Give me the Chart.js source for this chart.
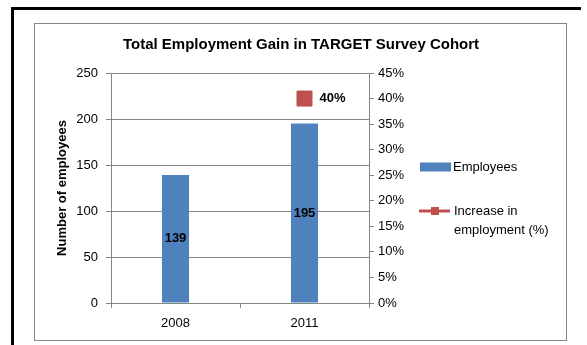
<!DOCTYPE html>
<html>
<head>
<meta charset="utf-8">
<script src="https://cdn.jsdelivr.net/npm/chart.js@4.4.1/dist/chart.umd.min.js"></script>
<style>
  html, body { margin: 0; padding: 0; background: #fff; overflow: hidden; }
  canvas { display: block; }
</style>
</head>
<body>
<canvas id="chart" width="587" height="345"></canvas>
<script>
const years = ["2008", "2011"];
const employees = [139, 195];
const increasePct = [null, 40];
const employeeTicks = [0, 50, 100, 150, 200, 250];
const percentTicks = [0, 5, 10, 15, 20, 25, 30, 35, 40, 45];

const barBlue = "#4F81BD";
const lineRed = "#C0504D";
const axisGray = "#868686";
const FONT = '"Liberation Sans", Arial, sans-serif';

Chart.defaults.font.family = FONT;
Chart.defaults.color = "#000";

// page frame (thick black, open to the right and bottom) and the gray chart box
const chartFrame = {
    id: "chartFrame",
    beforeDraw(chart) {
        const ctx = chart.ctx;
        ctx.save();
        ctx.fillStyle = "#fff";
        ctx.fillRect(0, 0, chart.width, chart.height);
        ctx.fillStyle = "#000";
        ctx.fillRect(11, 7, 570, 3);
        ctx.fillRect(11, 7, 3, chart.height - 7);
        ctx.strokeStyle = axisGray;
        ctx.lineWidth = 1;
        ctx.strokeRect(34.5, 23.5, 532, 317);
        ctx.restore();
    }
};

// value labels: in the middle of each bar, and to the right of the marker
const valueLabels = {
    id: "valueLabels",
    afterDatasetsDraw(chart) {
        const ctx = chart.ctx;
        ctx.save();
        ctx.font = "bold 13px " + FONT;
        ctx.fillStyle = "#000";
        ctx.textBaseline = "middle";
        ctx.textAlign = "center";
        chart.getDatasetMeta(0).data.forEach((bar, i) => {
            ctx.fillText(employees[i], bar.x, (bar.y + bar.base) / 2);
        });
        ctx.textAlign = "left";
        chart.getDatasetMeta(1).data.forEach((pt, i) => {
            if (increasePct[i] == null) return;
            ctx.fillText(increasePct[i] + "%", pt.x + 15, pt.y);
        });
        ctx.restore();
    }
};

// legend to the right of the plot, long labels wrap onto two lines
function wrapText(ctx, text, maxWidth) {
    const words = text.split(" ");
    const lines = [];
    let cur = "";
    words.forEach(w => {
        const next = cur ? cur + " " + w : w;
        if (cur && ctx.measureText(next).width > maxWidth) {
            lines.push(cur);
            cur = w;
        } else {
            cur = next;
        }
    });
    if (cur) lines.push(cur);
    return lines;
}

const sideLegend = {
    id: "sideLegend",
    afterDraw(chart) {
        const ctx = chart.ctx;
        const area = chart.chartArea;
        const x = area.right + 51;
        const sets = chart.data.datasets;
        ctx.save();
        ctx.font = "13px " + FONT;
        ctx.textBaseline = "middle";
        ctx.textAlign = "left";

        let y = area.top + 94;
        ctx.fillStyle = sets[0].backgroundColor;
        ctx.fillRect(x, y - 4.5, 31, 9);
        ctx.fillStyle = "#000";
        ctx.fillText(sets[0].label, x + 33, y);

        y = area.top + 138;
        ctx.strokeStyle = sets[1].borderColor;
        ctx.lineWidth = 3;
        ctx.beginPath();
        ctx.moveTo(x - 1, y);
        ctx.lineTo(x + 30, y);
        ctx.stroke();
        ctx.fillStyle = sets[1].backgroundColor;
        ctx.fillRect(x + 11, y - 4, 8, 8);
        ctx.fillStyle = "#000";
        wrapText(ctx, sets[1].label, 105).forEach((line, i) => {
            ctx.fillText(line, x + 34, y + i * 19);
        });
        ctx.restore();
    }
};

new Chart(document.getElementById("chart"), {
    type: "bar",
    data: {
        labels: years,
        datasets: [
            {
                label: "Employees",
                data: employees,
                backgroundColor: barBlue,
                yAxisID: "y",
                barPercentage: 0.21,
                categoryPercentage: 1,
                order: 2
            },
            {
                type: "line",
                label: "Increase in employment (%)",
                data: increasePct,
                yAxisID: "y1",
                borderColor: lineRed,
                backgroundColor: lineRed,
                borderWidth: 3,
                pointStyle: "rect",
                pointRadius: 10.6,
                pointBorderWidth: 1,
                pointBorderColor: "#B8504C",
                order: 1
            }
        ]
    },
    options: {
        responsive: false,
        animation: false,
        devicePixelRatio: 1,
        layout: { padding: { left: 34, right: 19, top: 0, bottom: 4 } },
        plugins: {
            legend: { display: false },
            tooltip: { enabled: false },
            title: {
                display: true,
                text: "Total Employment Gain in TARGET Survey Cohort",
                color: "#000",
                font: { size: 15, weight: "bold" },
                padding: { top: 36, bottom: 19 }
            }
        },
        scales: {
            x: {
                offset: true,
                grid: { offset: true, drawOnChartArea: false, tickLength: 5, color: axisGray },
                border: { color: axisGray },
                ticks: { color: "#000", font: { size: 13 }, padding: 8 },
                afterFit: s => { s.height = 38; }
            },
            y: {
                position: "left",
                min: 0,
                max: 250,
                afterBuildTicks: s => { s.ticks = employeeTicks.map(v => ({ value: v })); },
                ticks: { color: "#000", font: { size: 13 }, padding: 8 },
                grid: { color: axisGray, tickLength: 5 },
                border: { color: axisGray },
                title: {
                    display: true,
                    text: "Number of employees",
                    color: "#000",
                    font: { size: 13, weight: "bold" },
                    padding: { top: 21, bottom: 0 }
                },
                afterFit: s => { s.width = 77; }
            },
            y1: {
                position: "right",
                min: 0,
                max: 45,
                afterBuildTicks: s => { s.ticks = percentTicks.map(v => ({ value: v })); },
                ticks: { color: "#000", font: { size: 13 }, padding: 4, callback: v => v + "%" },
                grid: { drawOnChartArea: false, tickLength: 5, color: axisGray },
                border: { color: axisGray },
                afterFit: s => { s.width = 199; }
            }
        }
    },
    plugins: [chartFrame, valueLabels, sideLegend]
});
</script>
</body>
</html>
